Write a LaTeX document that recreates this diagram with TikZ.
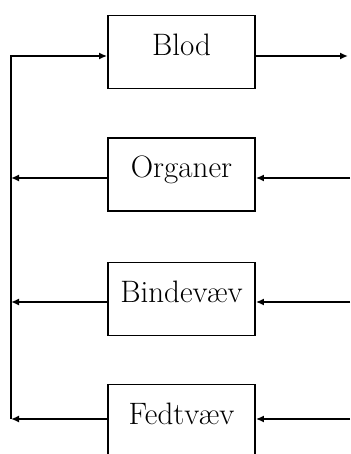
\documentclass[tikz,border=0pt]{standalone}
\usepackage{tikz}
\usetikzlibrary{arrows.meta}

\begin{document}
\begin{tikzpicture}[x=1pt,y=-1pt,line width=1.8pt,
    boks/.style={draw,minimum width=147pt,minimum height=73pt,inner sep=0pt,
      font=\fontsize{31}{37}\selectfont,text height=0.683em,text depth=0pt},
    pil/.style={-{Latex[length=8pt,width=7pt]}}]
  \useasboundingbox (0,0) rectangle (350,454);
  \clip (0,0) rectangle (350,454);

  % Kasserne
  \node[boks] (blod) at (181.5,52) {Blod};
  \node[boks] (organer) at (181.5,174.5) {Organer};
  \node[boks] (bindevaev) at (181.5,299) {Bindevæv};
  \node[boks] (fedtvaev) at (181.5,421) {Fedtvæv};

  % Punkter til venstre og til højre
  \coordinate (v1) at (11,56);
  \coordinate (v2) at (11,178);
  \coordinate (v3) at (11,302);
  \coordinate (v4) at (11,419);
  \coordinate (h1) at (348,56);
  \coordinate (h2) at (350,178);
  \coordinate (h3) at (350,302);
  \coordinate (h4) at (350,419);

  % Pile ind fra højre
  \draw[pil] (blod.east |- h1) -- (h1);
  \draw[pil] (h2) -- (organer.east |- h2);
  \draw[pil] (h3) -- (bindevaev.east |- h3);
  \draw[pil] (h4) -- (fedtvaev.east |- h4);

  % Pile ud til venstre
  \draw[pil] (organer.west |- v2) -- (v2);
  \draw[pil] (bindevaev.west |- v3) -- (v3);
  \draw[pil] (fedtvaev.west |- v4) -- (v4);

  % Tilbage op til blodet
  \draw[pil] (v4) -- (v1) -- (blod.west |- v1);
\end{tikzpicture}
\end{document}
